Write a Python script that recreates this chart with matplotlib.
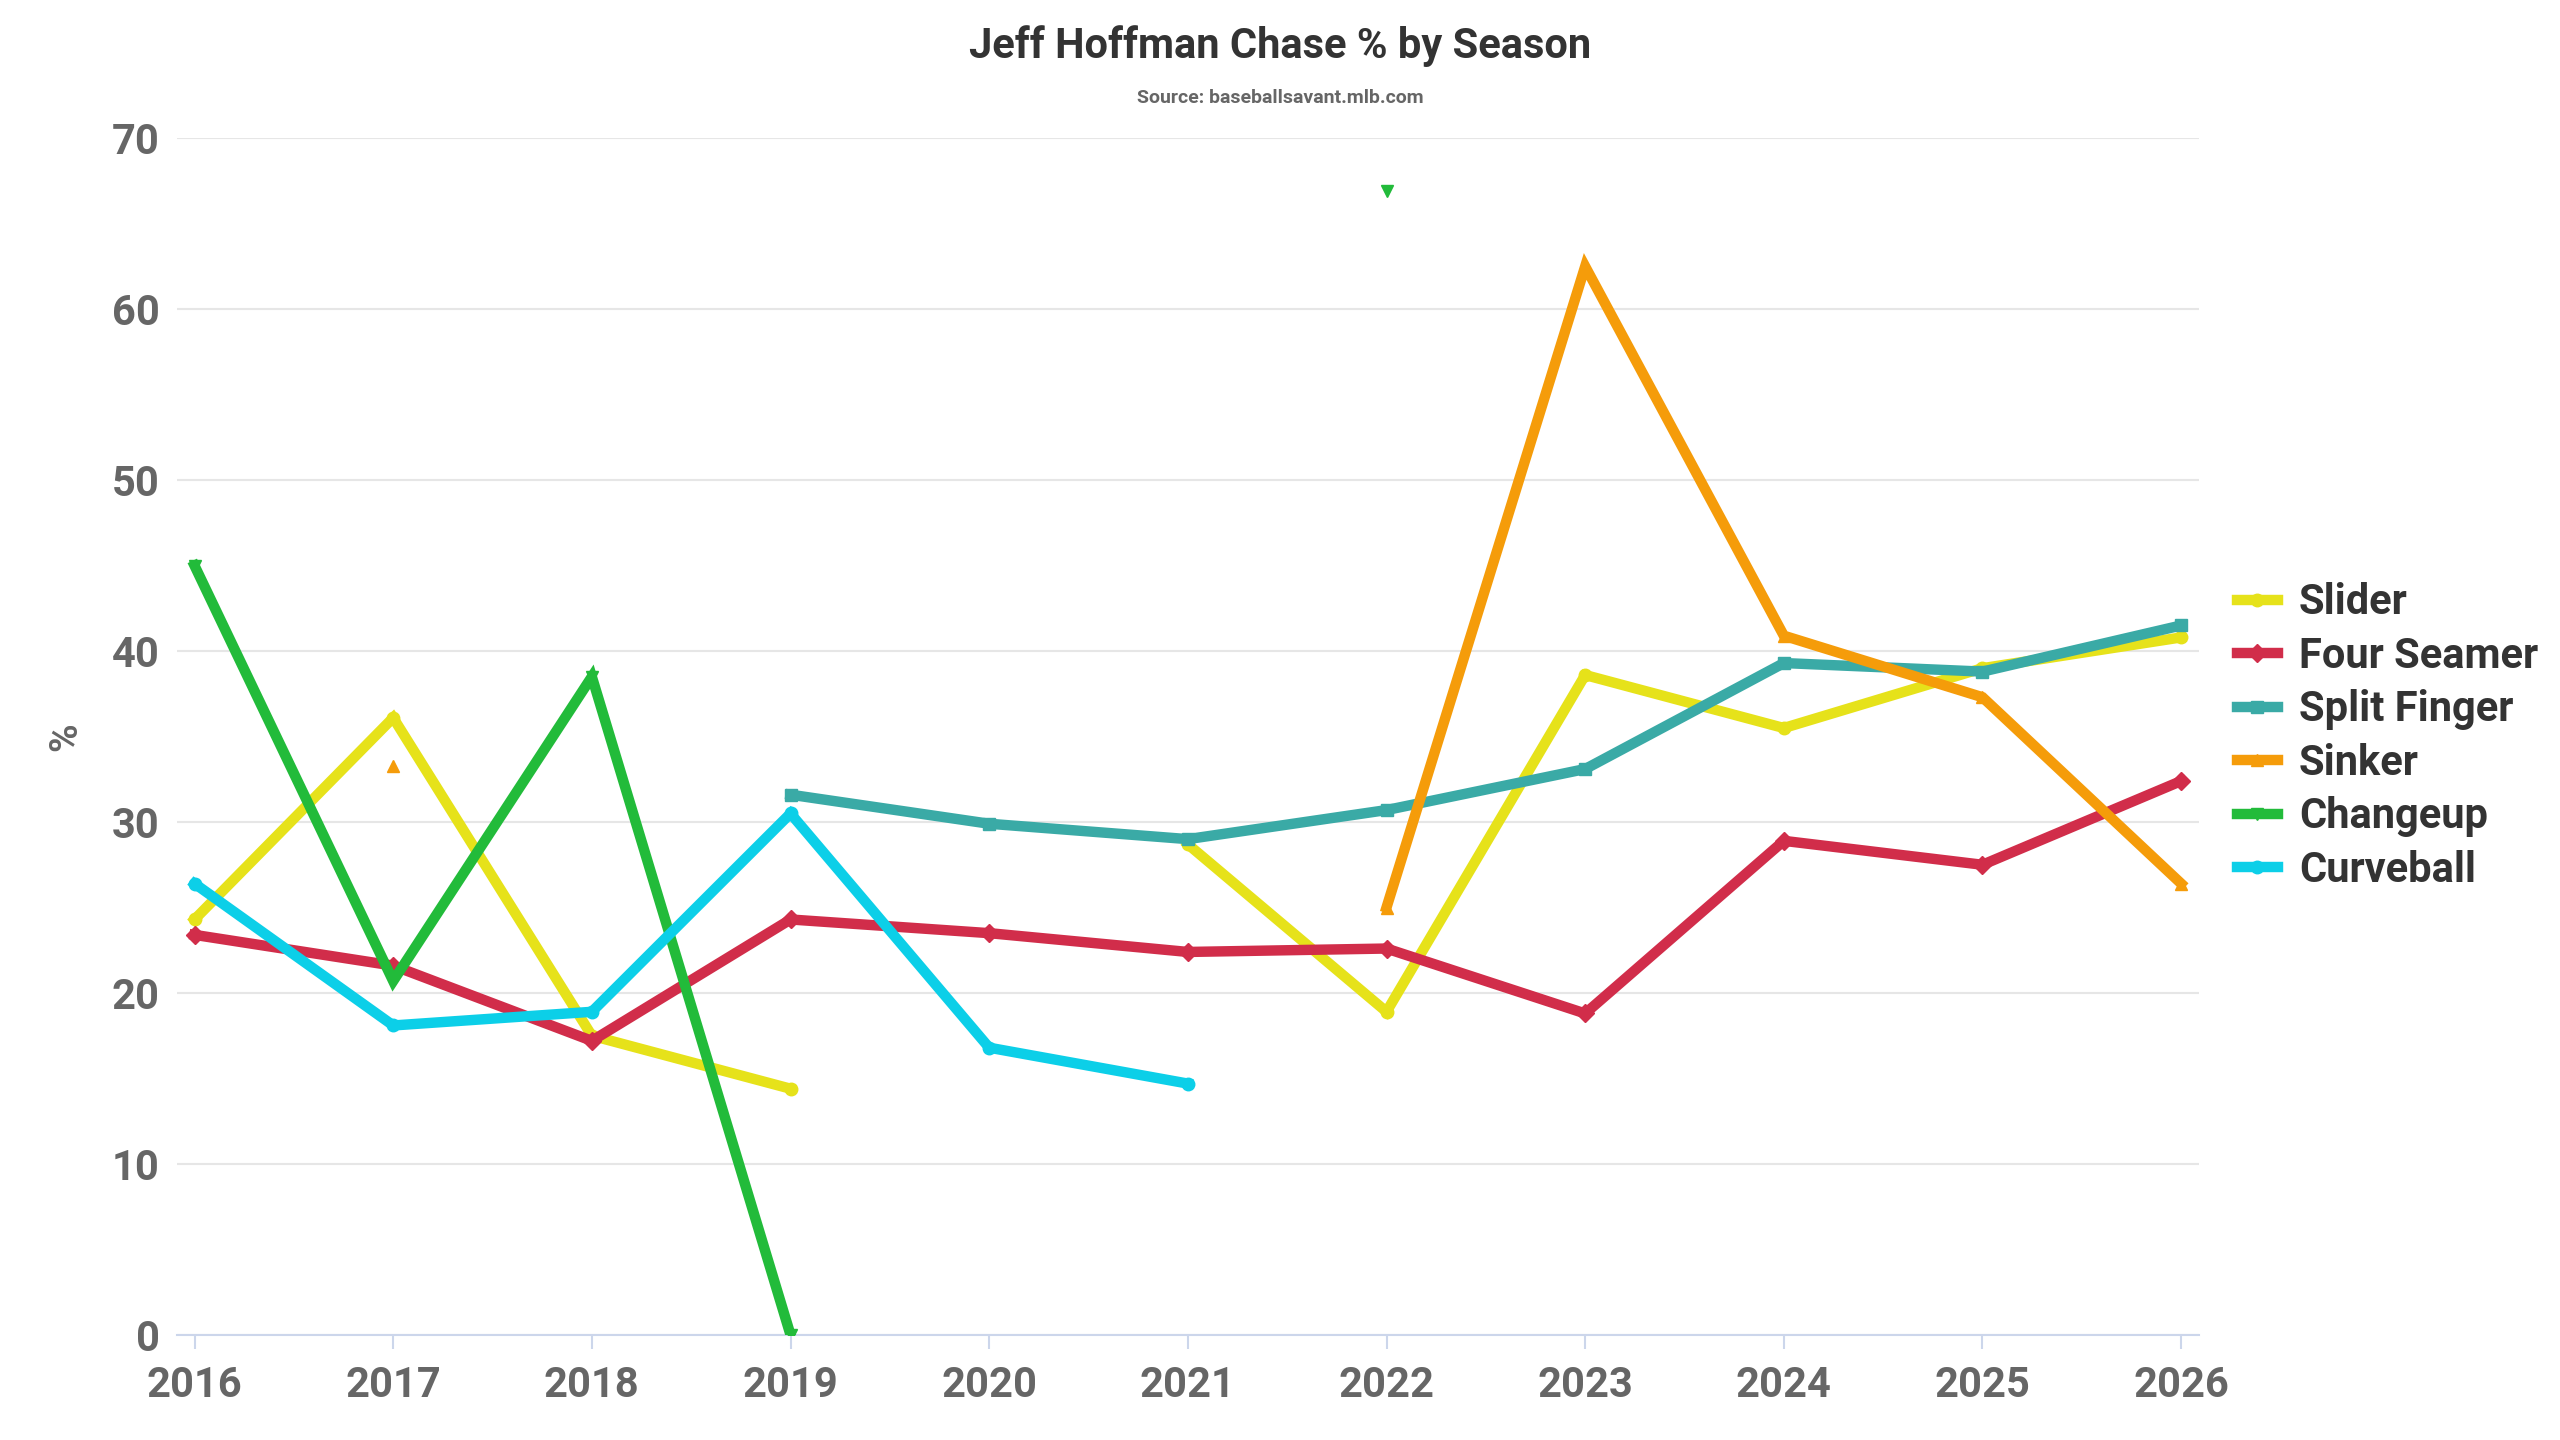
import numpy as np
import matplotlib
matplotlib.use("Agg")
import matplotlib.pyplot as plt

plt.rcParams['font.family'] = ['Roboto', 'DejaVu Sans']

years = [2016, 2017, 2018, 2019, 2020, 2021, 2022, 2023, 2024, 2025, 2026]
nan = np.nan
slider = [24.3, 36.1, 17.5, 14.4, nan, 28.7, 18.9, 38.6, 35.5, 39.0, 40.8]
four_seamer = [23.4, 21.6, 17.2, 24.3, 23.5, 22.4, 22.6, 18.8, 28.9, 27.5, 32.4]
split_finger = [nan, nan, nan, 31.6, 29.9, 29.0, 30.7, 33.1, 39.3, 38.8, 41.5]
sinker = [nan, 33.3, nan, nan, nan, nan, 25.0, 62.5, 40.9, 37.3, 26.4]
changeup = [45.0, 20.7, 38.5, 0.0, nan, nan, 66.9, nan, nan, nan, nan]
curveball = [26.4, 18.1, 18.9, 30.5, 16.8, 14.7, nan, nan, nan, nan, nan]

series = [
    ("Slider", slider, "#e6e21a", "o"),
    ("Four Seamer", four_seamer, "#d12d4a", "D"),
    ("Split Finger", split_finger, "#3aaaa6", "s"),
    ("Sinker", sinker, "#f59c0a", "^"),
    ("Changeup", changeup, "#22bb3a", "v"),
    ("Curveball", curveball, "#0ccfe8", "o"),
]

grey = "#666666"
fig = plt.figure(figsize=(25.6, 14.4), dpi=100)
ax = fig.add_axes([0.069, 0.073, 0.79, 0.831])

for name, vals, col, mk in series:
    ax.plot(years, vals, color=col, lw=7.5, marker=mk, ms=9,
            solid_joinstyle='miter', label=name, zorder=3)

ax.set_xlim(2015.91, 2026.09)
ax.set_ylim(0, 70)
ax.set_xticks(years)
ax.set_yticks(range(0, 71, 10))
ax.grid(axis='y', color='#e6e6e6', lw=1.5)
ax.set_axisbelow(True)
for s in ['top', 'right', 'left']:
    ax.spines[s].set_visible(False)
ax.spines['bottom'].set_color('#ccd6eb')
ax.spines['bottom'].set_linewidth(1.5)
ax.tick_params(axis='both', labelsize=30, colors=grey, length=0, pad=12)
ax.tick_params(axis='x', length=10, color='#ccd6eb', width=1.5)
for lbl in ax.get_xticklabels() + ax.get_yticklabels():
    lbl.set_fontweight('bold')
ax.set_ylabel('%', fontsize=28, color=grey, fontweight='bold', labelpad=20)

fig.text(0.5, 0.968, "Jeff Hoffman Chase % by Season", ha='center', va='center',
         fontsize=30, fontweight='bold', color='#333333')
fig.text(0.5, 0.932, "Source: baseballsavant.mlb.com", ha='center', va='center',
         fontsize=14, fontweight='bold', color=grey)

leg = ax.legend(loc='center left', bbox_to_anchor=(1.0, 0.5), frameon=False,
                fontsize=30, handlelength=1.0, handletextpad=0.5, labelspacing=0.3,
                markerscale=1.0)
for t in leg.get_texts():
    t.set_fontweight('bold')
    t.set_color('#333333')

fig.savefig("out.png", dpi=100)
